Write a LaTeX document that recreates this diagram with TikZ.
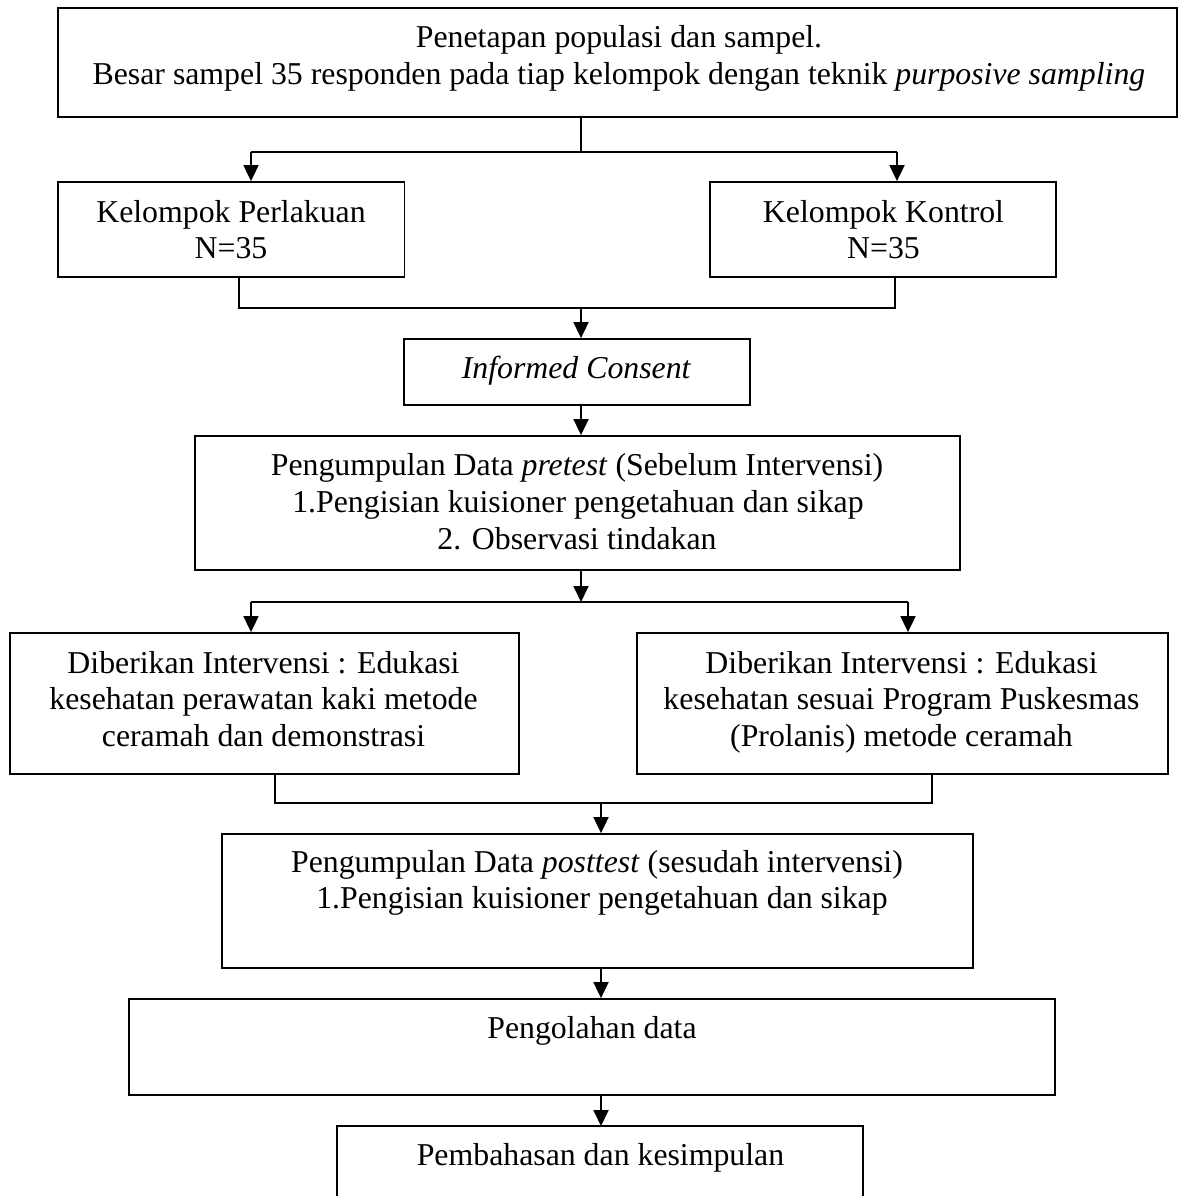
\documentclass[tikz,border=0pt]{standalone}
\usepackage{fontspec}
\setmainfont{Liberation Serif}
\usetikzlibrary{arrows.meta}
\begin{document}
\begin{tikzpicture}[x=1pt,y=-1pt,
  box/.style={draw,line width=1.8pt,inner sep=0pt,rectangle},
  txt/.style={anchor=base,inner sep=0pt,font=\fontsize{31.8}{36.5}\selectfont},
  conn/.style={line width=1.8pt},
  arr/.style={conn,-{Triangle[width=15pt,length=16pt]}}]
\useasboundingbox (0,0) rectangle (1180,1196);
% boxes
\node[box,minimum width=1119pt,minimum height=109pt] (top) at (617.5,62.5) {};
\node[box,minimum width=346.5pt,minimum height=95pt] (kp) at (231.25,229.5) {};
\node[box,minimum width=346pt,minimum height=95pt] (kk) at (883,229.5) {};
\node[box,minimum width=346pt,minimum height=66pt] (ic) at (577,372) {};
\node[box,minimum width=765pt,minimum height=134pt] (pre) at (577.5,503) {};
\node[box,minimum width=509pt,minimum height=141pt] (il) at (264.5,703.5) {};
\node[box,minimum width=531pt,minimum height=141pt] (ir) at (902.5,703.5) {};
\node[box,minimum width=751pt,minimum height=134pt] (post) at (597.5,901) {};
\node[box,minimum width=926pt,minimum height=96pt] (pg) at (592,1047) {};
\node[inner sep=0pt,minimum width=526pt,minimum height=100pt,anchor=north] (pb) at (600,1126) {};
\draw[conn] (pb.south west) -- (pb.north west) -- (pb.north east) -- (pb.south east);
% texts
\node[txt] (t1) at (619,48) {Penetapan populasi dan sampel.};
\node[txt] (t2) at (619,85) {Besar sampel 35 responden pada tiap kelompok dengan teknik \textit{purposive sampling}};
\node[txt] (t3) at (231,222) {Kelompok Perlakuan};
\node[txt] (t4) at (231,258) {N=35};
\node[txt] (t5) at (883.5,222) {Kelompok Kontrol};
\node[txt] (t6) at (883.5,258) {N=35};
\node[txt] (t7) at (576.5,378) {\textit{Informed Consent}};
\node[txt] (t8) at (577,475) {Pengumpulan Data \textit{pretest} (Sebelum Intervensi)};
\node[txt] (t9) at (578,512) {1.Pengisian kuisioner pengetahuan dan sikap};
\node[txt] (t10) at (577,549) {2. Observasi tindakan};
\node[txt] (t11) at (263.5,673) {Diberikan Intervensi : Edukasi};
\node[txt] (t12) at (263.5,709) {kesehatan perawatan kaki metode};
\node[txt] (t13) at (263.5,746) {ceramah dan demonstrasi};
\node[txt] (t14) at (901.5,673) {Diberikan Intervensi : Edukasi};
\node[txt] (t15) at (901.5,709) {kesehatan sesuai Program Puskesmas};
\node[txt] (t16) at (901.5,746) {(Prolanis) metode ceramah};
\node[txt] (t17) at (597,872) {Pengumpulan Data \textit{posttest} (sesudah intervensi)};
\node[txt] (t18) at (602,908) {1.Pengisian kuisioner pengetahuan dan sikap};
\node[txt] (t19) at (592,1038) {Pengolahan data};
\node[txt] (t20) at (600.5,1165) {Pembahasan dan kesimpulan};
% junction coordinates
\coordinate (j1) at (581,152);
\coordinate (j1l) at (251,152);
\coordinate (j1r) at (897,152);
\coordinate (m1) at (581,308);
\coordinate (m1l) at (239,308);
\coordinate (m1r) at (895,308);
\coordinate (j2) at (581,602);
\coordinate (j2l) at (251,602);
\coordinate (j2r) at (908,602);
\coordinate (m2) at (601,803);
\coordinate (m2l) at (275,803);
\coordinate (m2r) at (932,803);
% connectors
\draw[conn] (top.south -| j1) -- (j1);
\draw[conn] (j1l) -- (j1r);
\draw[arr] (j1l) -- (j1l |- kp.north);
\draw[arr] (j1r) -- (j1r |- kk.north);
\draw[conn] (kp.south -| m1l) -- (m1l) -- (m1r) -- (kk.south -| m1r);
\draw[arr] (m1) -- (m1 |- ic.north);
\draw[arr] (ic.south -| m1) -- (pre.north -| m1);
\draw[arr] (pre.south -| j2) -- (j2);
\draw[conn] (j2l) -- (j2r);
\draw[arr] (j2l) -- (j2l |- il.north);
\draw[arr] (j2r) -- (j2r |- ir.north);
\draw[conn] (il.south -| m2l) -- (m2l) -- (m2r) -- (ir.south -| m2r);
\draw[arr] (m2) -- (m2 |- post.north);
\draw[arr] (post.south -| m2) -- (pg.north -| m2);
\draw[arr] (pg.south -| m2) -- (pb.north -| m2);
\end{tikzpicture}
\end{document}
